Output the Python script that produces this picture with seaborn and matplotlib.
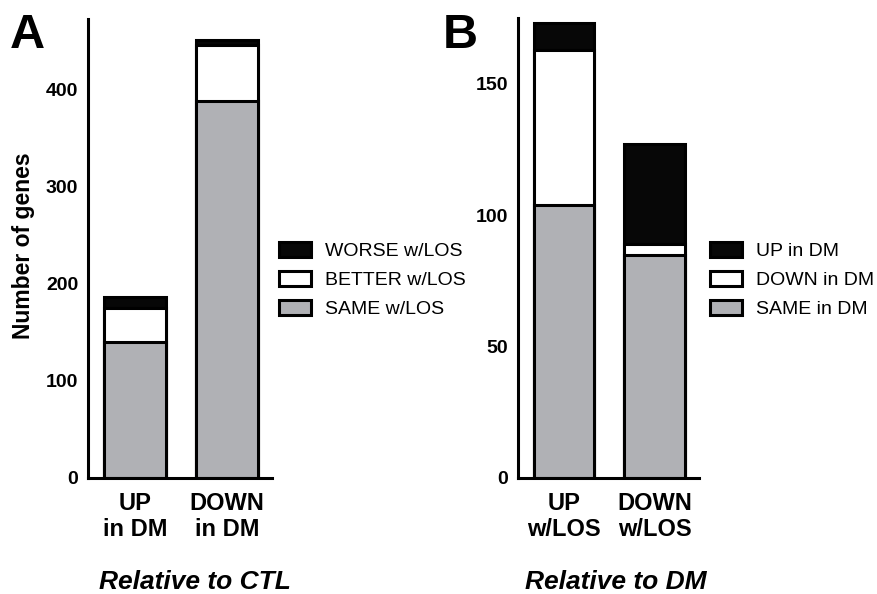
import matplotlib
matplotlib.use('Agg')
import matplotlib.pyplot as plt
from matplotlib.patches import Patch
import seaborn as sns
import numpy as np

sns.set_style('white')
plt.rcParams['font.family'] = ['Liberation Sans', 'DejaVu Sans']
plt.rcParams.update({'text.color': 'black', 'xtick.color': 'black',
                     'ytick.color': 'black', 'axes.labelcolor': 'black'})

# Panel A: genes relative to CTL
cats_a = ['UP\nin DM', 'DOWN\nin DM']
same_a = [140, 388]
better_a = [35, 58]
worse_a = [12, 5]
legend_a = ['WORSE w/LOS', 'BETTER w/LOS', 'SAME w/LOS']

# Panel B: genes relative to DM
cats_b = ['UP\nw/LOS', 'DOWN\nw/LOS']
same_b = [104, 85]
down_b = [59, 4]
up_b = [10, 38]
legend_b = ['UP in DM', 'DOWN in DM', 'SAME in DM']

BLACK = '#070707'
WHITE = '#ffffff'
GRAY = '#b0b1b5'
LW = 2.2


def stacked(ax, cats, layers, colors, ylim, yticks):
    # draw cumulative totals from the top layer down so each segment shows
    cum = np.cumsum(np.array(layers), axis=0)
    for vals, col in zip(cum[::-1], colors):
        sns.barplot(x=cats, y=vals, color=col, edgecolor='black',
                    linewidth=LW, width=0.67, saturation=1, ax=ax)
    ax.set_xlim(-0.51, 1.49)
    ax.set_ylim(*ylim)
    ax.set_yticks(yticks)
    ax.set_xticks(range(len(cats)))
    ax.set_xticklabels(cats, fontsize=17, fontweight='bold')
    for lab in ax.get_yticklabels():
        lab.set_fontsize(14)
        lab.set_fontweight('bold')
    ax.tick_params(direction='out', length=5, width=LW, pad=2, color='black')
    ax.tick_params(axis='x', pad=5)
    for s in ['top', 'right']:
        ax.spines[s].set_visible(False)
    for s in ['left', 'bottom']:
        ax.spines[s].set_linewidth(LW)
        ax.spines[s].set_color('black')
    ax.set_xlabel('')
    ax.set_ylabel('')


fig = plt.figure(figsize=(8.78, 5.94), dpi=100)
ax_a = fig.add_axes([0.1002, 0.1953, 0.2096, 0.7727])
ax_b = fig.add_axes([0.59, 0.1953, 0.206, 0.7744])

colors = [BLACK, WHITE, GRAY]
stacked(ax_a, cats_a, [same_a, better_a, worse_a], colors, (0, 473), [0, 100, 200, 300, 400])
stacked(ax_b, cats_b, [same_b, down_b, up_b], colors, (0, 175), [0, 50, 100, 150])

for labels, xpos in [(legend_a, 0.3178), (legend_b, 0.8087)]:
    handles = [Patch(facecolor=c, edgecolor='black', linewidth=LW) for c in colors]
    fig.legend(handles, labels, loc='center left', bbox_to_anchor=(xpos, 0.5286),
               frameon=False, fontsize=14, handlelength=1.65, handleheight=0.8,
               handletextpad=0.7, labelspacing=0.55, borderpad=0, borderaxespad=0)

fig.text(24 / 878, 0.586, 'Number of genes', rotation=90, ha='center', va='center',
         fontsize=16.5, fontweight='bold')
fig.text(0.222, 0.008, 'Relative to CTL', ha='center', va='baseline',
         fontsize=19, fontweight='bold', style='italic')
fig.text(0.701, 0.008, 'Relative to DM', ha='center', va='baseline',
         fontsize=19, fontweight='bold', style='italic')
fig.text(10 / 878, 0.919, 'A', fontsize=35, fontweight='bold', va='baseline')
fig.text(443 / 878, 0.919, 'B', fontsize=35, fontweight='bold', va='baseline')

fig.savefig('out.png', dpi=100)
